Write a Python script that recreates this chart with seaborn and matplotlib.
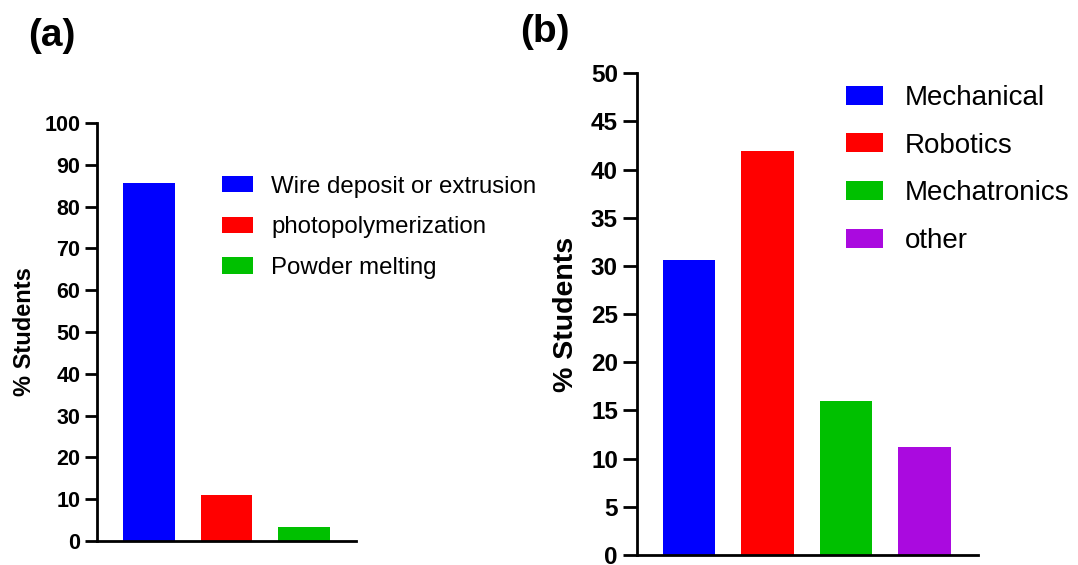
import matplotlib
matplotlib.use('Agg')
import matplotlib.pyplot as plt
import seaborn as sns

# panel (a): 3D printing technology
tech_labels = ['Wire deposit or extrusion', 'photopolymerization', 'Powder melting']
tech_values = [85.7, 10.9, 3.3]
tech_colors = ['#0000FF', '#FF0000', '#00C000']

# panel (b): field of study
field_labels = ['Mechanical', 'Robotics', 'Mechatronics', 'other']
field_values = [30.6, 41.9, 16.0, 11.2]
field_colors = ['#0000FF', '#FF0000', '#00C000', '#AA0ADF']

a_yticks = list(range(0, 101, 10))
b_yticks = list(range(0, 51, 5))

sns.set_style('ticks')
plt.rcParams['font.family'] = ['Liberation Sans', 'DejaVu Sans']
plt.rcParams.update({'text.color': 'black', 'axes.labelcolor': 'black',
                     'ytick.color': 'black', 'xtick.color': 'black'})

W, H = 1078, 565
fig = plt.figure(figsize=(W / 100, H / 100), dpi=100)


def px_axes(left, right, top, bottom):
    return fig.add_axes([left / W, 1 - bottom / H, (right - left) / W, (bottom - top) / H])


def style_axes(ax, yticks, ylim, xlim, tick_len, tick_fs, label_fs, label_x):
    ax.set_ylim(*ylim)
    ax.set_xlim(*xlim)
    ax.set_yticks(yticks)
    ax.set_xticks([])
    ax.set_xlabel('')
    for side in ['top', 'right']:
        ax.spines[side].set_visible(False)
    for side in ['left', 'bottom']:
        ax.spines[side].set_linewidth(2.0)
        ax.spines[side].set_color('black')
    ax.tick_params(axis='y', length=tick_len, width=2.0, pad=3.5, labelsize=tick_fs,
                   color='black', labelcolor='black')
    for t in ax.get_yticklabels():
        t.set_fontweight('bold')
    ax.set_ylabel('% Students', fontsize=label_fs, fontweight='bold', color='black')
    ax.yaxis.set_label_coords(label_x, 0.5)


def bar_panel(ax, labels, values, colors):
    sns.barplot(x=labels, y=values, hue=labels, palette=colors, order=labels,
                hue_order=labels, saturation=1, width=0.67, linewidth=0,
                ax=ax, legend=True)


# ---- panel (a)
ax_a = px_axes(97, 356, 123, 541)
bar_panel(ax_a, tech_labels, tech_values, tech_colors)
style_axes(ax_a, a_yticks, (0, 100), (-0.67, 2.67), 8.6, 15.5, 17, -0.236)
h, l = ax_a.get_legend_handles_labels()
ax_a.legend(h, l, loc='upper left', bbox_to_anchor=(221.5 / W, 1 - 175.5 / H),
            bbox_transform=fig.transFigure, frameon=False, fontsize=17.3,
            borderpad=0, borderaxespad=0, handlelength=1.32, handleheight=0.67,
            handletextpad=0.75, labelspacing=0.78)

# ---- panel (b)
ax_b = px_axes(636.7, 977.7, 73.3, 555)
bar_panel(ax_b, field_labels, field_values, field_colors)
style_axes(ax_b, b_yticks, (0, 50), (-0.67, 3.68), 10, 17.5, 20.5, -0.169)
h, l = ax_b.get_legend_handles_labels()
ax_b.legend(h, l, loc='upper left', bbox_to_anchor=(845.7 / W, 1 - 85 / H),
            bbox_transform=fig.transFigure, frameon=False, fontsize=20,
            borderpad=0, borderaxespad=0, handlelength=1.35, handleheight=0.68,
            handletextpad=0.79, labelspacing=0.78)

# panel letters
fig.text(51.5 / W, 1 - 36.5 / H, '(a)', fontsize=28, fontweight='bold', ha='center', va='center')
fig.text(545 / W, 1 - 32.5 / H, '(b)', fontsize=28, fontweight='bold', ha='center', va='center')

fig.savefig('out.png', dpi=100)
